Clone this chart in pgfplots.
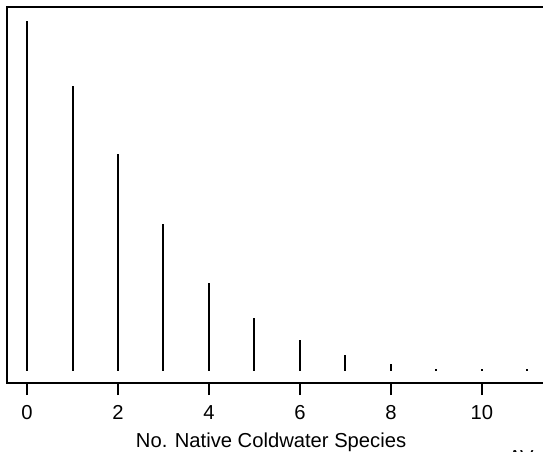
\documentclass[border=0pt]{standalone}
\usepackage{pgfplots}
\pgfplotsset{compat=1.18}
\usepackage{fontspec}
\setmainfont{Liberation Sans}
\begin{document}
\begin{tikzpicture}
\useasboundingbox (0pt,0pt) rectangle (543pt,452pt);
\begin{scope}
\clip (0pt,0pt) rectangle (543pt,452pt);
\begin{axis}[
  at={(7pt,69pt)}, anchor=south west,
  scale only axis, width=540pt, height=375.5pt,
  xmin=-0.44, xmax=11.43, ymin=-12.5, ymax=363,
  axis line style={line width=2pt},
  xtick={0,2,...,10}, ytick=\empty,
  xtick pos=lower, tick align=outside,
  major tick length=12pt,
  xtick style={line width=1.4pt, black},
  /pgf/number format/assume math mode=true,
  ticklabel style={font=\fontsize{20.2}{24}\selectfont},
  xticklabel style={yshift=-7pt},
  xlabel={No. Native Coldwater Species},
  xlabel style={font=\fontsize{20.2}{24}\selectfont, at={(axis description cs:0.489,0)}, anchor=base, yshift=-64.5pt},
]
\addplot[ycomb, black, line width=2pt] coordinates {
(0,349.5) (1,284.5) (2,216.5) (3,146.5) (4,87.5) (5,52.5) (6,30.5) (7,15.5) (8,6.5) (9,2) (10,2) (11,2)
};
\end{axis}
\node[anchor=north west, inner sep=0pt, font=\fontsize{20.2}{24}\selectfont] at (508pt,2pt) {AV};
\end{scope}
\end{tikzpicture}
\end{document}
